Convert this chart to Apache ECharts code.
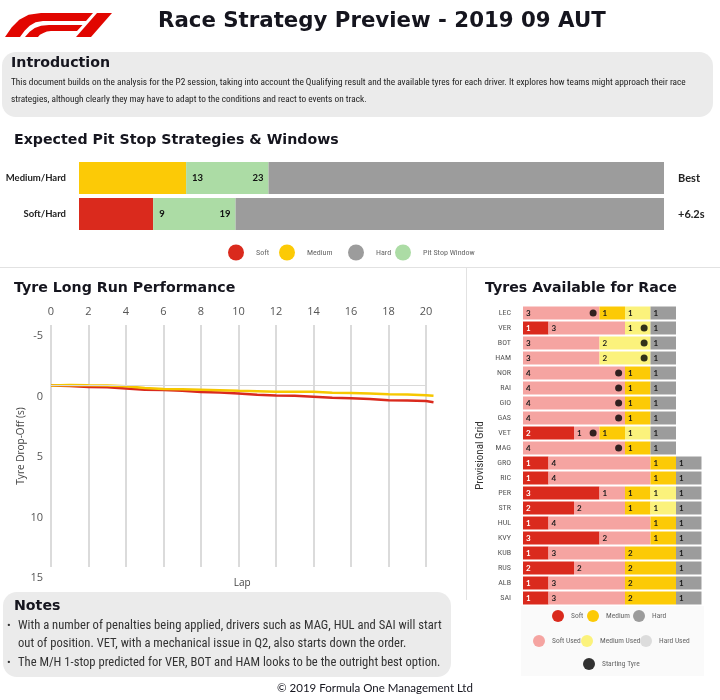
<!DOCTYPE html>
<html><head><meta charset="utf-8">
<script src="https://cdn.jsdelivr.net/npm/echarts@6.0.0/dist/echarts.min.js"></script>
<style>html,body{margin:0;padding:0;background:#fff}#c{width:720px;height:700px}</style>
</head><body><div id="c"></div>
<script>
// ---------- data ----------
// Expected pit stop strategies
const strategies = ['Medium/Hard', 'Soft/Hard'];
const strategyDelta = ['Best', '+6.2s'];
const firstStintTyre = ['Medium', 'Soft'];
const windowOpen = [13, 9];
const windowClose = [23, 19];
const raceLaps = 71;

// Tyre long run performance (drop-off in s vs lap)
const runLaps = [0,1,2,3,4,5,6,7,8,9,10,11,12,13,14,15,16,17,18,19,20,20.4];
const softDrop = [0,0.05,0.12,0.15,0.25,0.36,0.38,0.44,0.54,0.58,0.66,0.76,0.83,0.85,0.92,1.02,1.05,1.12,1.21,1.23,1.29,1.38];
const mediumDrop = [0,-0.05,-0.02,0,0.06,0.2,0.28,0.32,0.36,0.4,0.44,0.47,0.52,0.52,0.52,0.6,0.61,0.66,0.72,0.74,0.8,0.85];

// Tyres available for race
const drivers = ['LEC','VER','BOT','HAM','NOR','RAI','GIO','GAS','VET','MAG','GRO','RIC','PER','STR','HUL','KVY','KUB','RUS','ALB','SAI'];
const softNew    = [0,1,0,0,0,0,0,0,2,0, 1,1,3,2,1,3,1,2,1,1];
const softUsed   = [3,3,3,3,4,4,4,4,1,4, 4,4,1,2,4,2,3,2,3,3];
const mediumNew  = [1,0,0,0,1,1,1,1,1,1, 1,1,1,1,1,1,2,2,2,2];
const mediumUsed = [1,1,2,2,0,0,0,0,1,0, 0,0,1,1,0,0,0,0,0,0];
const hardNew    = [1,1,1,1,1,1,1,1,1,1, 1,1,1,1,1,1,1,1,1,1];
const hardUsed   = [0,0,0,0,0,0,0,0,0,0, 0,0,0,0,0,0,0,0,0,0];
const startingTyre = ['Soft Used','Medium Used','Medium Used','Medium Used','Soft Used','Soft Used','Soft Used','Soft Used','Soft Used','Soft Used', null,null,null,null,null,null,null,null,null,null];

// ---------- styling ----------
const C = {soft:'#da2a1d', softUsed:'#f5a4a1', medium:'#fcca06', mediumUsed:'#fbf27c', hard:'#9c9c9c', hardUsed:'#dcdcdc', window:'#acdca5', start:'#000000'};
const HEAD = '"DejaVu Sans", "Noto Sans", sans-serif';
const LATO = 'Lato, "Noto Sans", sans-serif';
const BODY = '"Liberation Sans Narrow", "Roboto Condensed", "DejaVu Sans Condensed", Roboto, sans-serif';

const tyreSeriesDefs = [
  ['Soft', softNew, C.soft, '#ffffff'],
  ['Soft Used', softUsed, C.softUsed, '#1a1a1a'],
  ['Medium', mediumNew, C.medium, '#1a1a1a'],
  ['Medium Used', mediumUsed, C.mediumUsed, '#1a1a1a'],
  ['Hard', hardNew, C.hard, '#1a1a1a'],
  ['Hard Used', hardUsed, C.hardUsed, '#1a1a1a']
];
const tyreOrder = tyreSeriesDefs.map(d => d[0]);
function startX(i) {
  const t = startingTyre[i];
  let sum = 0;
  for (let k = 0; k < tyreSeriesDefs.length; k++) {
    sum += tyreSeriesDefs[k][1][i];
    if (tyreOrder[k] === t) return sum - 0.25;
  }
  return null;
}
const startPts = [];
drivers.forEach((d, i) => { if (startingTyre[i]) startPts.push([startX(i), d]); });

// ---------- chart ----------
const chart = echarts.init(document.getElementById('c'), null, {renderer: 'canvas'});

function txt(text, x, y, font, fill, align) {
  return {type: 'text', silent: true, style: {text, x, y, font, fill: fill || '#15151e',
    textAlign: align || 'left', textVerticalAlign: 'middle', align: align || 'left', verticalAlign: 'middle'}};
}
const RED = '#e10600';
const SEC = 'bold 14.2px ' + HEAD;
const graphic = [
  // F1 logo
  {type: 'polygon', silent: true, shape: {points: [[5,37],[11.75,27.34],[19.25,19.75],[28.63,14.78],[41,13],[93,13],[86,21],[43,21],[35.6,22.24],[29.63,25.63],[24.58,30.7],[20,37]]}, style: {fill: RED}},
  {type: 'polygon', silent: true, shape: {points: [[25,37],[29.6,31.75],[34.75,28],[41.03,25.76],[49,25],[82.5,25],[77,31],[51,31],[46.86,31.52],[43.38,32.88],[39.9,34.8],[38,37]]}, style: {fill: RED}},
  {type: 'polygon', silent: true, shape: {points: [[97,13],[112,13],[91,37],[76,37]]}, style: {fill: RED}},
  txt('Race Strategy Preview - 2019 09 AUT', 158, 21, 'bold 21.3px ' + HEAD, '#15151e'),
  // Introduction box
  {type: 'rect', silent: true, shape: {x: 2, y: 52, width: 711, height: 65, r: 14}, style: {fill: '#ebebeb'}},
  txt('Introduction', 11, 63, SEC, '#15151e'),
  txt('This document builds on the analysis for the P2 session, taking into account the Qualifying result and the available tyres for each driver. It explores how teams might approach their race', 11, 83, '9.3px ' + BODY, '#222'),
  txt('strategies, although clearly they may have to adapt to the conditions and react to events on track.', 11, 100, '9.3px ' + BODY, '#222'),
  // Pit stop section
  txt('Expected Pit Stop Strategies & Windows', 14, 140, SEC, '#15151e'),
  // dividers
  {type: 'line', silent: true, shape: {x1: 0, y1: 267.5, x2: 720, y2: 267.5}, style: {stroke: '#e2e2e2', lineWidth: 1}},
  {type: 'line', silent: true, shape: {x1: 466.5, y1: 268, x2: 466.5, y2: 600}, style: {stroke: '#e2e2e2', lineWidth: 1}},
  txt('Tyre Long Run Performance', 14, 288, SEC, '#15151e'),
  txt('Tyres Available for Race', 485, 288, SEC, '#15151e'),
  {type: 'rect', silent: true, shape: {x: 521, y: 606, width: 183, height: 70}, style: {fill: '#fafafa'}},
  // Notes
  {type: 'rect', silent: true, shape: {x: 3, y: 592, width: 448, height: 85, r: 14}, style: {fill: '#ebebeb'}},
  txt('Notes', 14, 606, SEC, '#15151e'),
  txt('\u2022', 7, 626, '11px ' + BODY, '#333'),
  txt('With a number of penalties being applied, drivers such as MAG, HUL and SAI will start', 18, 626, '12.6px ' + BODY, '#333'),
  txt('out of position. VET, with a mechanical issue in Q2, also starts down the order.', 18, 644, '12.6px ' + BODY, '#333'),
  txt('\u2022', 7, 663, '11px ' + BODY, '#333'),
  txt('The M/H 1-stop predicted for VER, BOT and HAM looks to be the outright best option.', 18, 663, '12.6px ' + BODY, '#333'),
  txt('\u00A9 2019 Formula One Management Ltd', 375, 688, '11.5px ' + LATO, '#15151e', 'center')
];

function lg(name, cx, cy, w, h, fs) {
  return {data: [name], left: cx - w / 2, top: cy - h / 2, itemWidth: w, itemHeight: h, icon: 'circle',
    padding: 0, selectedMode: false, textStyle: {fontSize: fs, color: '#666', fontFamily: BODY}};
}

const series = [
  // pit stop strategies
  {name: 'Soft', type: 'bar', xAxisIndex: 0, yAxisIndex: 0, stack: 'pit', barWidth: 32, itemStyle: {color: C.soft},
    data: firstStintTyre.map((t, i) => t === 'Soft' ? windowOpen[i] : 0)},
  {name: 'Medium', type: 'bar', xAxisIndex: 0, yAxisIndex: 0, stack: 'pit', barWidth: 32, itemStyle: {color: C.medium},
    data: firstStintTyre.map((t, i) => t === 'Medium' ? windowOpen[i] : 0)},
  {name: 'Pit Stop Window', type: 'bar', xAxisIndex: 0, yAxisIndex: 0, stack: 'pit', barWidth: 32, itemStyle: {color: C.window},
    data: windowClose.map((c, i) => c - windowOpen[i]),
    label: {show: true, position: 'insideLeft', distance: 6, formatter: p => String(windowOpen[p.dataIndex]),
      fontWeight: 'bold', fontSize: 9.5, color: '#111', fontFamily: LATO}},
  {name: 'Hard', type: 'bar', xAxisIndex: 0, yAxisIndex: 0, stack: 'pit', barWidth: 32, itemStyle: {color: C.hard},
    data: windowClose.map(c => raceLaps - c),
    label: {show: true, position: 'left', distance: 5, formatter: p => String(windowClose[p.dataIndex]),
      fontWeight: 'bold', fontSize: 9.5, color: '#111', fontFamily: LATO}},
  // long run
  {name: 'Soft', type: 'line', xAxisIndex: 1, yAxisIndex: 2, showSymbol: false, smooth: false,
    lineStyle: {color: C.soft, width: 2.5}, itemStyle: {color: C.soft},
    data: runLaps.map((l, i) => [l, softDrop[i]]),
    markLine: {silent: true, symbol: 'none', label: {show: false}, lineStyle: {color: '#d9d9d9', width: 1, type: 'solid'},
      data: [[{coord: [0, 0]}, {coord: [20, 0]}]]}},
  {name: 'Medium', type: 'line', xAxisIndex: 1, yAxisIndex: 2, showSymbol: false, smooth: false,
    lineStyle: {color: '#f6c700', width: 2.5}, itemStyle: {color: C.medium},
    data: runLaps.map((l, i) => [l, mediumDrop[i]])}
];
// tyres available
tyreSeriesDefs.forEach(([name, arr, col, lc]) => {
  series.push({name, type: 'bar', xAxisIndex: 3, yAxisIndex: 3, stack: 'tyres', barWidth: 13,
    itemStyle: {color: col}, data: arr,
    label: {show: true, position: 'insideLeft', distance: 3, formatter: p => p.value > 0 ? String(p.value) : '',
      fontWeight: 'bold', fontSize: 8, color: lc, fontFamily: LATO}});
});
series.push({name: 'Starting Tyre', type: 'scatter', xAxisIndex: 3, yAxisIndex: 3, symbolSize: 7,
  itemStyle: {color: C.start}, data: startPts, z: 5});

const option = {
  backgroundColor: '#ffffff',
  animation: false,
  textStyle: {fontFamily: BODY},
  graphic,
  grid: [
    {left: 79, top: 160, width: 585, height: 72},
    {left: 51, top: 325, width: 382.5, height: 242},
    {left: 523, top: 305.5, width: 178.5, height: 300}
  ],
  legend: [
    lg('Soft', 243, 252.5, 30, 16, 8), lg('Medium', 294, 252.5, 30, 16, 8),
    lg('Hard', 363, 252.5, 30, 16, 8), lg('Pit Stop Window', 410, 252.5, 30, 16, 8),
    lg('Soft', 560, 616, 16, 12, 7.5), lg('Medium', 595, 616, 16, 12, 7.5), lg('Hard', 641, 616, 16, 12, 7.5),
    lg('Soft Used', 541, 641, 16, 12, 7.5), lg('Medium Used', 589, 641, 16, 12, 7.5), lg('Hard Used', 648, 641, 16, 12, 7.5),
    lg('Starting Tyre', 591, 664, 16, 12, 7.5)
  ],
  xAxis: [
    {gridIndex: 0, type: 'value', min: 0, max: raceLaps, show: false},
    {gridIndex: 1, type: 'value', position: 'top', min: 0, max: 20.4, interval: 2,
      axisLine: {show: false}, axisTick: {show: false},
      axisLabel: {color: '#555', fontSize: 11, margin: 8, showMaxLabel: false, fontFamily: 'Open Sans',
        formatter: v => (Math.abs(v - Math.round(v)) < 1e-6 && Math.round(v) % 2 === 0) ? String(Math.round(v)) : ''},
      splitLine: {show: true, showMaxLine: false, lineStyle: {color: '#cfcfcf', width: 1.5}}},
    {gridIndex: 1, type: 'value', position: 'bottom', min: 0, max: 20.4,
      axisLine: {show: false}, axisTick: {show: false}, axisLabel: {show: false}, splitLine: {show: false},
      name: 'Lap', nameLocation: 'middle', nameGap: 11, nameTextStyle: {color: '#444', fontSize: 10, fontFamily: 'Open Sans'}},
    {gridIndex: 2, type: 'value', min: 0, max: 7, show: false}
  ],
  yAxis: [
    {gridIndex: 0, type: 'category', data: strategies, inverse: true,
      axisLine: {show: false}, axisTick: {show: false},
      axisLabel: {fontWeight: 'bold', fontSize: 9.5, color: '#222', margin: 13, fontFamily: LATO}},
    {gridIndex: 0, type: 'category', data: strategyDelta, inverse: true, position: 'right',
      axisLine: {show: false}, axisTick: {show: false},
      axisLabel: {fontWeight: 'bold', fontSize: 11, color: '#222', margin: 14, fontFamily: LATO}},
    {gridIndex: 1, type: 'value', inverse: true, min: -5, max: 15, interval: 5,
      axisLine: {show: false}, axisTick: {show: false}, splitLine: {show: false},
      axisLabel: {color: '#555', fontSize: 11, margin: 8, verticalAlign: 'top', lineHeight: 22, fontFamily: 'Open Sans'},
      name: 'Tyre Drop-Off (s)', nameLocation: 'middle', nameGap: 25, nameRotate: 90, nameMoveOverlap: false,
      nameTextStyle: {color: '#444', fontSize: 10, fontFamily: 'Open Sans'}},
    {gridIndex: 2, type: 'category', data: drivers, inverse: true,
      axisLine: {show: false}, axisTick: {show: false},
      axisLabel: {fontSize: 8, color: '#555', margin: 12, fontFamily: BODY},
      name: 'Provisional Grid', nameLocation: 'middle', nameGap: 37, nameRotate: 90, nameMoveOverlap: false,
      nameTextStyle: {color: '#333', fontSize: 11, fontFamily: BODY}}
  ],
  series
};
chart.setOption(option);
</script></body></html>
